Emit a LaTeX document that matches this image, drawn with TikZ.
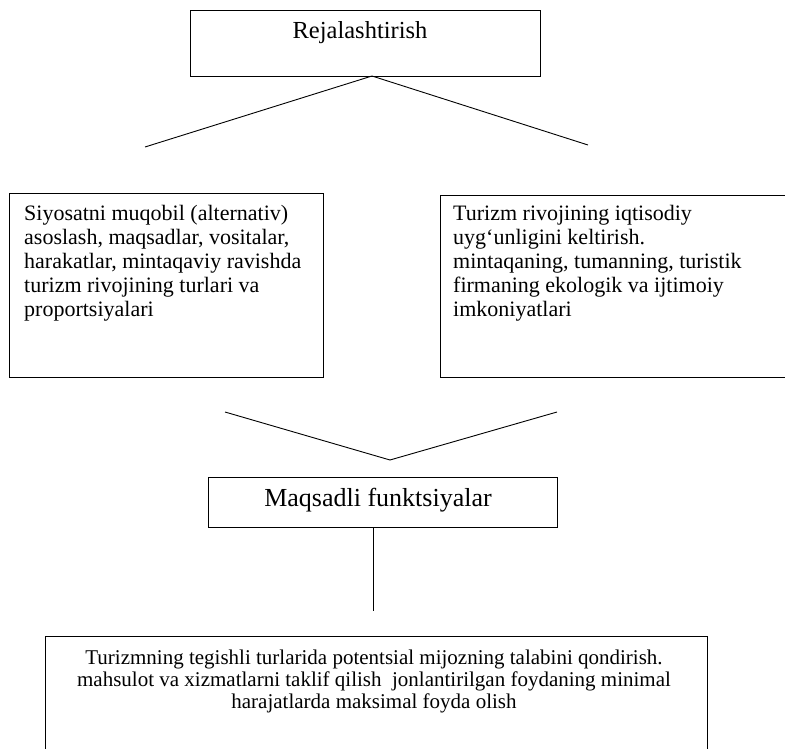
\documentclass[tikz,border=0pt]{standalone}
\usepackage{fontspec}
\setmainfont{Liberation Serif}
\begin{document}
\begin{tikzpicture}[x=1pt,y=-1pt,
  box/.style={draw, line width=1pt, inner sep=0pt, anchor=north west},
  conn/.style={line width=0.9pt},
  body/.style={font=\fontsize{22}{24}\selectfont, inner sep=0pt},
  head/.style={font=\fontsize{24.5}{27}\selectfont, inner sep=0pt}]
\useasboundingbox (0,0) rectangle (785,749);
% top box
\node[box, minimum width=350pt, minimum height=66pt] (top) at (190,10) {};
\node[head] (toptext) at (360,33) {Rejalashtirish};
\coordinate (apex1) at (372,76);
\coordinate (l1) at (145,147);
\coordinate (r1) at (588,145);
\draw[conn] (apex1) -- (l1);
\draw[conn] (apex1) -- (r1);
% left box
\node[box, minimum width=314pt, minimum height=184pt] (left) at (9,193) {};
\node[body, anchor=north west, align=left] (lefttext) at (24,205) {Siyosatni muqobil (alternativ)\\asoslash, maqsadlar, vositalar,\\harakatlar, mintaqaviy ravishda\\turizm rivojining turlari va\\proportsiyalari};
% right box
\node[box, minimum width=348pt, minimum height=182pt] (right) at (440,195) {};
\node[body, anchor=north west, align=left] (righttext) at (453,205) {Turizm rivojining iqtisodiy\\uyg`unligini keltirish.\\mintaqaning, tumanning, turistik\\firmaning ekologik va ijtimoiy\\imkoniyatlari};
% V
\coordinate (l2) at (225,412);
\coordinate (apex2) at (390,460);
\coordinate (r2) at (557,412);
\draw[conn] (l2) -- (apex2) -- (r2);
% middle box
\node[box, minimum width=349pt, minimum height=50pt] (mid) at (208,477) {};
\node[head, font=\fontsize{26}{28}\selectfont] (midtext) at (378,500) {Maqsadli funktsiyalar};
\coordinate (vend) at (373,611);
\draw[conn] (mid.south -| vend) -- (vend);
% bottom box
\node[box, minimum width=662pt, minimum height=130pt] (bot) at (45,636) {};
\node[body, anchor=north, align=center, font=\fontsize{21}{22}\selectfont] (bottext) at (374,650) {Turizmning tegishli turlarida potentsial mijozning talabini qondirish.\\mahsulot va xizmatlarni taklif qilish\ \ jonlantirilgan foydaning minimal\\harajatlarda maksimal foyda olish};
\end{tikzpicture}
\end{document}
